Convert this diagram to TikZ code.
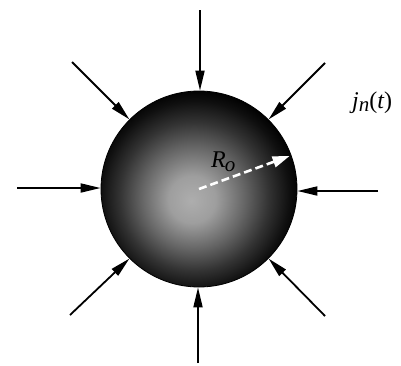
\documentclass[tikz,border=0pt]{standalone}
\usepackage{fontspec}
\setmainfont{Liberation Serif}
\usetikzlibrary{arrows.meta,calc}
\pgfdeclareradialshading{sph}{\pgfpoint{-2bp}{-3bp}}{%
  color(0bp)=(black!32);
  color(6bp)=(black!38);
  color(13bp)=(black!60);
  color(19bp)=(black!80);
  color(24bp)=(black!94);
  color(27bp)=(black);
  color(50bp)=(black)}
\tikzset{
  inarrow/.style={line width=1.8pt, -{Triangle[length=20pt,width=9pt]}},
  radarrow/.style={white, line width=2.6pt, dash pattern=on 8pt off 4pt,
    -{Triangle[length=17pt,width=11pt]}},
  lbl/.style={font=\fontsize{24}{26}\selectfont\itshape, inner sep=0pt}
}
\begin{document}
\begin{tikzpicture}[x=1pt,y=-1pt]
\useasboundingbox (0,0) rectangle (401,365);
\node[circle, minimum size=196pt, inner sep=0pt, shading=sph, draw=black, line width=0.8pt] (s) at (199,189) {};
\coordinate (oT) at (200,10);
\coordinate (oB) at (198,363);
\coordinate (oL) at (17,188);
\coordinate (oR) at (378,191);
\coordinate (oTL) at (72,62);
\coordinate (oTR) at (325,63);
\coordinate (oBL) at (70,315);
\coordinate (oBR) at (325,316);
\draw[inarrow] (oT) -- (oT |- s.north);
\draw[inarrow] (oB) -- (oB |- s.south);
\draw[inarrow] (oL) -- (oL -| s.west);
\draw[inarrow] (oR) -- (oR -| s.east);
\draw[inarrow] (oTL) -- (s.135);
\draw[inarrow] (oTR) -- (s.45);
\draw[inarrow] (oBL) -- (s.225);
\draw[inarrow] (oBR) -- (s.-45);
\draw[radarrow, shorten >=2pt] (s.center) -- (s.20);
\node[lbl, anchor=base west] (ro) at (211,167) {R\kern-1pt\raisebox{-4pt}{\fontsize{21}{23}\selectfont o}};
\node[lbl, anchor=base west] (jn) at (352,108) {j\raisebox{-3pt}{\fontsize{21}{23}\selectfont n}\upshape(\itshape t\upshape)};
\end{tikzpicture}
\end{document}
